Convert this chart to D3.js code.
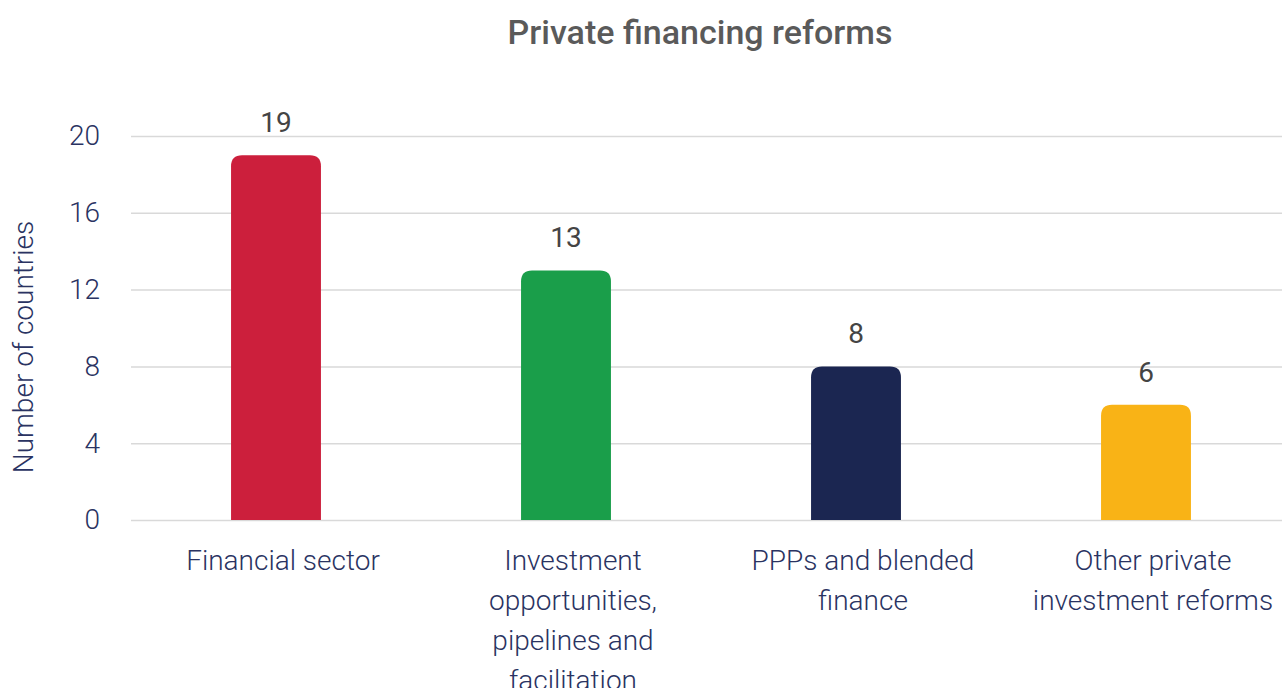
<!DOCTYPE html>
<html>
<head>
<meta charset="utf-8">
<script src="https://cdn.jsdelivr.net/npm/d3@7"></script>
<style>
  html, body { margin: 0; padding: 0; background: #ffffff; }
  svg { display: block; font-family: Roboto, "Noto Sans", sans-serif; }
</style>
</head>
<body>
<svg id="chart" width="1282" height="688"></svg>
<script>
// Private financing reforms: number of countries per reform type
const categories = [
  ["Financial sector"],
  ["Investment", "opportunities,", "pipelines and", "facilitation"],
  ["PPPs and blended", "finance"],
  ["Other private", "investment reforms"]
];
const values = [19, 13, 8, 6];
const colors = ["#cc1f3c", "#1a9e4a", "#1b2651", "#f9b316"];
const yTicks = [0, 4, 8, 12, 16, 20];

const svg = d3.select("#chart");
const margin = { left: 131, right: -9, top: 136, bottom: 168 };
const W = 1282, H = 688;

const x = d3.scaleBand()
  .domain(d3.range(values.length))
  .range([margin.left, W - margin.right])
  .paddingInner(0.69)
  .paddingOuter(0.345);

const y = d3.scaleLinear()
  .domain([0, 20])
  .range([H - margin.bottom, margin.top]);

// Title
svg.append("text")
  .attr("x", 700).attr("y", 44)
  .attr("text-anchor", "middle")
  .attr("font-size", 34).attr("font-weight", 500)
  .attr("fill", "#5a5a5a")
  .text("Private financing reforms");

// Gridlines and y tick labels
const yAxis = d3.axisLeft(y).tickValues(yTicks).tickSize(-(W - margin.left)).tickPadding(31);
const gy = svg.append("g").attr("transform", `translate(${margin.left},0)`).call(yAxis);
gy.select(".domain").remove();
gy.selectAll(".tick line").attr("stroke", "#d9d9d9").attr("stroke-width", 1.5);
gy.selectAll(".tick text")
  .attr("font-size", 28).attr("font-weight", 300)
  .attr("fill", "#2a3362")
  .attr("font-family", "Roboto, sans-serif");

// Y axis title
svg.append("text")
  .attr("transform", `translate(33,${(y(0) + y(20)) / 2 + 19}) rotate(-90)`)
  .attr("text-anchor", "middle")
  .attr("font-size", 28).attr("font-weight", 300)
  .attr("fill", "#2a3362")
  .text("Number of countries");

// Bars with rounded top corners
const r = 11;
function barPath(i) {
  const x0 = x(i), w = x.bandwidth(), y0 = y(values[i]), yb = y(0);
  return `M${x0},${yb} V${y0 + r} Q${x0},${y0} ${x0 + r},${y0} H${x0 + w - r} Q${x0 + w},${y0} ${x0 + w},${y0 + r} V${yb} Z`;
}
svg.append("g").selectAll("path")
  .data(values)
  .join("path")
  .attr("d", (d, i) => barPath(i))
  .attr("fill", (d, i) => colors[i]);

// Value labels
svg.append("g").selectAll("text")
  .data(values)
  .join("text")
  .attr("x", (d, i) => x(i) + x.bandwidth() / 2)
  .attr("y", d => y(d) - 23)
  .attr("text-anchor", "middle")
  .attr("font-size", 28).attr("font-weight", 400)
  .attr("fill", "#444444")
  .text(d => d);

// Category labels (set slightly right of the bar centres)
const gx = svg.append("g");
categories.forEach((lines, i) => {
  const cx = x(i) + x.bandwidth() / 2 + 7;
  const t = gx.append("text")
    .attr("x", cx)
    .attr("y", 570)
    .attr("text-anchor", "middle")
    .attr("font-size", 28).attr("font-weight", 300)
    .attr("fill", "#2a3362");
  lines.forEach((ln, k) => {
    t.append("tspan")
      .attr("x", cx)
      .attr("dy", k === 0 ? 0 : 40)
      .text(ln);
  });
});
</script>
</body>
</html>
